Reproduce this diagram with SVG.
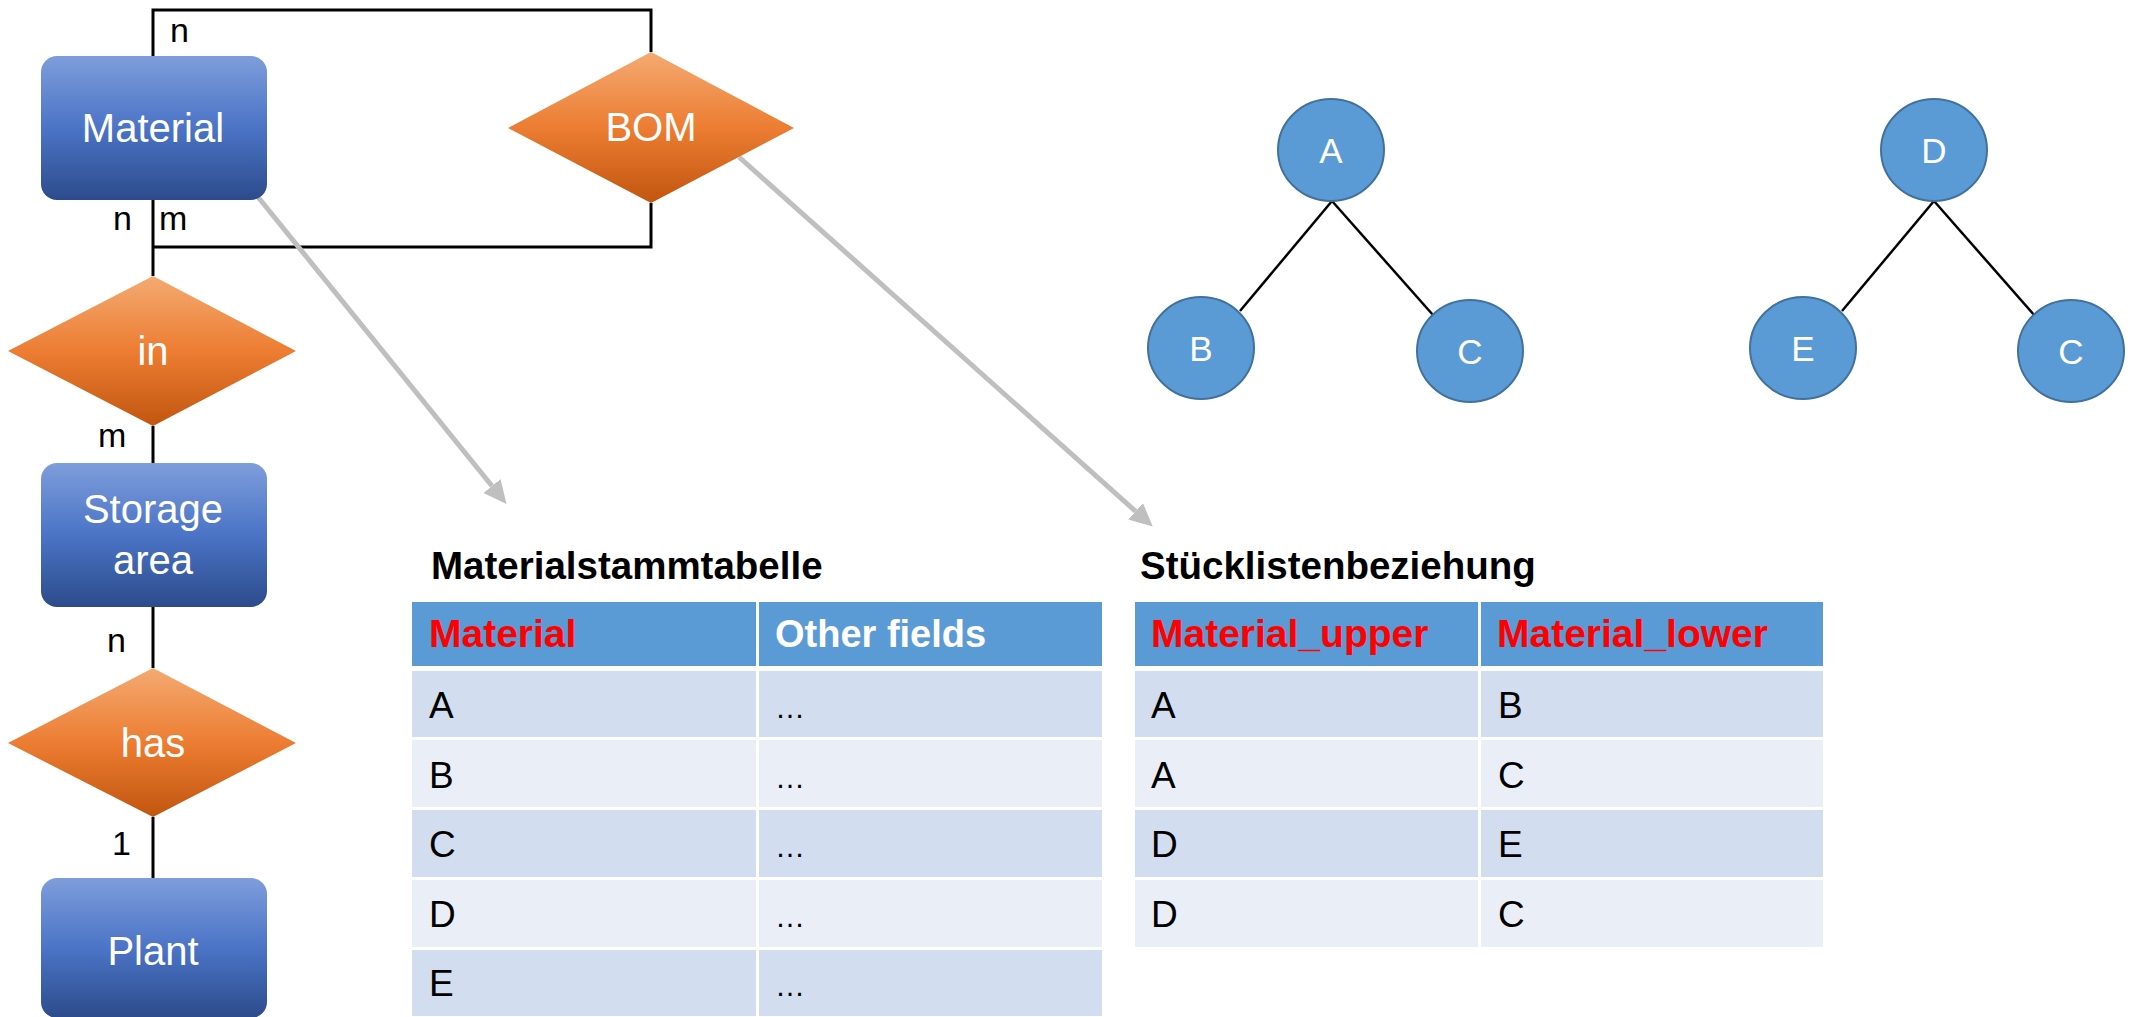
<svg xmlns="http://www.w3.org/2000/svg" width="2134" height="1017" viewBox="0 0 2134 1017">
<defs>
<linearGradient id="gBlue" x1="0" y1="0" x2="0" y2="1">
<stop offset="0" stop-color="#7E9DDB"/>
<stop offset="0.5" stop-color="#4B74C6"/>
<stop offset="1" stop-color="#2C4B8B"/>
</linearGradient>
<linearGradient id="gOrange" x1="0" y1="0" x2="0" y2="1">
<stop offset="0" stop-color="#F4AA72"/>
<stop offset="0.5" stop-color="#EC7D32"/>
<stop offset="1" stop-color="#C2560F"/>
</linearGradient>
<marker id="ah" markerUnits="userSpaceOnUse" markerWidth="26" markerHeight="24" refX="0" refY="11" orient="auto">
<path d="M0,0 L23,11 L0,22 z" fill="#BFBFBF"/>
</marker>
</defs>
<style>
.ent{fill:url(#gBlue);}
.rel{fill:url(#gOrange);}
.wt{font-family:"Liberation Sans",Arial,sans-serif;font-size:40px;fill:#FFFFFF;text-anchor:middle;}
.card{font-family:"Liberation Sans",Arial,sans-serif;font-size:34px;fill:#000000;}
.ln{stroke:#000000;stroke-width:3;fill:none;}
.tl{stroke:#000000;stroke-width:2.5;fill:none;}
.arr{stroke:#BFBFBF;stroke-width:5;fill:none;marker-end:url(#ah);}
.circ{fill:#5B9BD5;stroke:#41719C;stroke-width:2;}
.ct{font-family:"Liberation Sans",Arial,sans-serif;font-size:35px;fill:#FFFFFF;text-anchor:middle;}
.ttl{font-family:"Liberation Sans",Arial,sans-serif;font-size:38.5px;font-weight:bold;fill:#000000;}
.hd{fill:#5B9BD5;}
.r1{fill:#D2DEEF;}
.r2{fill:#EAEFF7;}
.hr{font-family:"Liberation Sans",Arial,sans-serif;font-size:39px;font-weight:bold;fill:#FF0000;}
.hw{font-family:"Liberation Sans",Arial,sans-serif;font-size:38px;font-weight:bold;fill:#FFFFFF;}
.cell{font-family:"Liberation Sans",Arial,sans-serif;font-size:37px;fill:#000000;}
.dots{font-family:"Liberation Sans",Arial,sans-serif;font-size:30px;fill:#000000;}
</style>
<rect width="2134" height="1017" fill="#FFFFFF"/>

<g id="connectors">
<path class="ln" d="M153,56 V10 H651 V52"/>
<path class="ln" d="M651,203 V247 H153"/>
<path class="ln" d="M153,200 V276"/>
<path class="ln" d="M153,426 V463"/>
<path class="ln" d="M153,607 V668"/>
<path class="ln" d="M153,817 V878"/>
<path class="tl" d="M1332,201 L1240,311"/>
<path class="tl" d="M1332,201 L1433,315"/>
<path class="tl" d="M1934,201 L1842,311"/>
<path class="tl" d="M1934,201 L2035,316"/>
<path class="arr" d="M258,197 L492,486"/>
<path class="arr" d="M739,157 L1135.6,511.3"/>
<text class="card" x="170" y="42">n</text>
<text class="card" x="113" y="230">n</text>
<text class="card" x="159" y="230">m</text>
<text class="card" x="98" y="447">m</text>
<text class="card" x="107" y="652">n</text>
<text class="card" x="112" y="855">1</text>
</g>

<g id="node-material">
<rect class="ent" x="41" y="56" width="226" height="144" rx="16"/>
<text class="wt" x="153" y="142">Material</text>
</g>
<g id="node-bom">
<polygon class="rel" points="651,52 794,128 651,203 508,128"/>
<text class="wt" x="651" y="141">BOM</text>
</g>
<g id="node-in">
<polygon class="rel" points="153,276 296,351 153,426 8,351"/>
<text class="wt" x="153" y="365">in</text>
</g>
<g id="node-storage">
<rect class="ent" x="41" y="463" width="226" height="144" rx="16"/>
<text class="wt" x="153" y="523">Storage</text>
<text class="wt" x="153" y="574">area</text>
</g>
<g id="node-has">
<polygon class="rel" points="153,668 296,743 153,817 8,743"/>
<text class="wt" x="153" y="757">has</text>
</g>
<g id="node-plant">
<rect class="ent" x="41" y="878" width="226" height="140" rx="16"/>
<text class="wt" x="153" y="965">Plant</text>
</g>

<g id="node-A"><ellipse class="circ" cx="1331" cy="150" rx="53" ry="51"/><text class="ct" x="1331" y="163">A</text></g>
<g id="node-B"><ellipse class="circ" cx="1201" cy="348" rx="53" ry="51"/><text class="ct" x="1201" y="361">B</text></g>
<g id="node-C"><ellipse class="circ" cx="1470" cy="351" rx="53" ry="51"/><text class="ct" x="1470" y="364">C</text></g>
<g id="node-D"><ellipse class="circ" cx="1934" cy="150" rx="53" ry="51"/><text class="ct" x="1934" y="163">D</text></g>
<g id="node-E"><ellipse class="circ" cx="1803" cy="348" rx="53" ry="51"/><text class="ct" x="1803" y="361">E</text></g>
<g id="node-C2"><ellipse class="circ" cx="2071" cy="351" rx="53" ry="51"/><text class="ct" x="2071" y="364">C</text></g>

<g id="table-materialstamm">
<text class="ttl" x="431" y="579">Materialstammtabelle</text>
<rect class="hd" x="412" y="602" width="344" height="64"/>
<rect class="hd" x="759" y="602" width="343" height="64"/>
<rect class="r1" x="412" y="671" width="344" height="66"/>
<rect class="r1" x="759" y="671" width="343" height="66"/>
<rect class="r2" x="412" y="740" width="344" height="67"/>
<rect class="r2" x="759" y="740" width="343" height="67"/>
<rect class="r1" x="412" y="810" width="344" height="67"/>
<rect class="r1" x="759" y="810" width="343" height="67"/>
<rect class="r2" x="412" y="880" width="344" height="67"/>
<rect class="r2" x="759" y="880" width="343" height="67"/>
<rect class="r1" x="412" y="950" width="344" height="66"/>
<rect class="r1" x="759" y="950" width="343" height="66"/>
<text class="hr" x="429" y="647">Material</text>
<text class="hw" x="775" y="647">Other fields</text>
<text class="cell" x="429" y="718">A</text>
<text class="cell" x="429" y="788">B</text>
<text class="cell" x="429" y="857">C</text>
<text class="cell" x="429" y="927">D</text>
<text class="cell" x="429" y="996">E</text>
<text class="dots" x="775" y="718">…</text>
<text class="dots" x="775" y="788">…</text>
<text class="dots" x="775" y="857">…</text>
<text class="dots" x="775" y="927">…</text>
<text class="dots" x="775" y="996">…</text>
</g>

<g id="table-stueckliste">
<text class="ttl" x="1140" y="579">Stücklistenbeziehung</text>
<rect class="hd" x="1135" y="602" width="343" height="64"/>
<rect class="hd" x="1481" y="602" width="342" height="64"/>
<rect class="r1" x="1135" y="671" width="343" height="66"/>
<rect class="r1" x="1481" y="671" width="342" height="66"/>
<rect class="r2" x="1135" y="740" width="343" height="67"/>
<rect class="r2" x="1481" y="740" width="342" height="67"/>
<rect class="r1" x="1135" y="810" width="343" height="67"/>
<rect class="r1" x="1481" y="810" width="342" height="67"/>
<rect class="r2" x="1135" y="880" width="343" height="67"/>
<rect class="r2" x="1481" y="880" width="342" height="67"/>
<text class="hr" x="1151" y="647">Material_upper</text>
<text class="hr" x="1497" y="647">Material_lower</text>
<text class="cell" x="1151" y="718">A</text>
<text class="cell" x="1151" y="788">A</text>
<text class="cell" x="1151" y="857">D</text>
<text class="cell" x="1151" y="927">D</text>
<text class="cell" x="1498" y="718">B</text>
<text class="cell" x="1498" y="788">C</text>
<text class="cell" x="1498" y="857">E</text>
<text class="cell" x="1498" y="927">C</text>
</g>
</svg>
